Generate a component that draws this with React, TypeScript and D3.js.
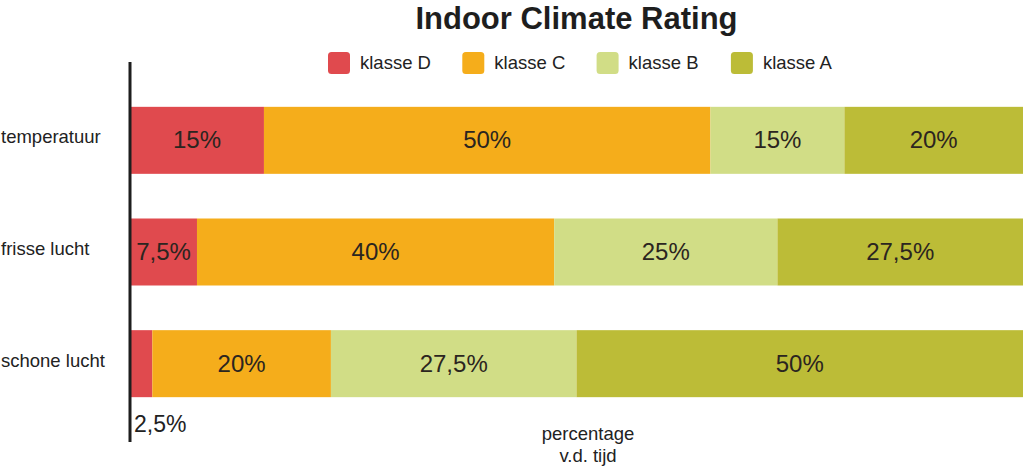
import React from "react";
import * as d3 from "d3";

const categories = ["temperatuur", "frisse lucht", "schone lucht"];
const classes = ["klasse D", "klasse C", "klasse B", "klasse A"];
const klasseD = [15, 7.5, 2.5];
const klasseC = [50, 40, 20];
const klasseB = [15, 25, 27.5];
const klasseA = [20, 27.5, 50];
const colors = ["#e04a4e", "#f5ad1b", "#d1dd86", "#bcbc37"];
const xTitle = ["percentage", "v.d. tijd"];

const W = 1024;
const H = 471;
const FONT = "'Liberation Sans', Arial, Helvetica, sans-serif";

export default function App() {
  const rows = categories.map((c, i) => ({
    cat: c,
    "klasse D": klasseD[i],
    "klasse C": klasseC[i],
    "klasse B": klasseB[i],
    "klasse A": klasseA[i],
  }));
  const stack = d3.stack<any>().keys(classes)(rows);
  const x = d3.scaleLinear().domain([0, 100]).range([130, 1023]);
  const y = d3
    .scaleBand()
    .domain(categories)
    .range([84.5, 419.5])
    .paddingInner(0.4)
    .paddingOuter(0.2);
  const fmt = (v: number) => String(v).replace(".", ",") + "%";

  return (
    <div style={{ position: "fixed", left: 0, top: 0 }}>
      <svg width={W} height={H} style={{ display: "block", background: "#fff" }} fontFamily={FONT}>
        <text x={576.5} y={29} textAnchor="middle" fontSize={31} fontWeight="bold" fill="#1e1e1e">
          Indoor Climate Rating
        </text>
        {classes.map((c, i) => (
          <g key={c} transform={`translate(${328 + i * 134.3},52)`}>
            <rect width={22} height={22} rx={3.5} fill={colors[i]} />
            <text x={32} y={17} fontSize={18.5} fill="#222">
              {c}
            </text>
          </g>
        ))}
        {stack.map((s, si) => (
          <g key={s.key}>
            {s.map((d: any, di) => {
              const x0 = x(d[0]);
              const x1 = x(d[1]);
              const v = d[1] - d[0];
              const yy = y(categories[di])!;
              const bw = y.bandwidth();
              return (
                <g key={di}>
                  <rect x={x0} y={yy} width={x1 - x0} height={bw} fill={colors[si]} />
                  {v >= 5 ? (
                    <text
                      x={(x0 + x1) / 2}
                      y={yy + bw / 2 + 8}
                      textAnchor="middle"
                      fontSize={24}
                      fill="#2b2520"
                    >
                      {fmt(v)}
                    </text>
                  ) : (
                    <text x={x0 + 4} y={yy + bw + 34.5} fontSize={23} fill="#222">
                      {fmt(v)}
                    </text>
                  )}
                </g>
              );
            })}
          </g>
        ))}
        {categories.map((c) => (
          <text key={c} x={1} y={y(c)! + y.bandwidth() / 2 + 3} fontSize={18.5} fill="#222">
            {c}
          </text>
        ))}
        <line x1={130} x2={130} y1={62} y2={442} stroke="#1e1e1e" strokeWidth={3} />
        {xTitle.map((t, i) => (
          <text key={t} x={588} y={440 + i * 21.7} textAnchor="middle" fontSize={18.5} fill="#222">
            {t}
          </text>
        ))}
      </svg>
    </div>
  );
}
